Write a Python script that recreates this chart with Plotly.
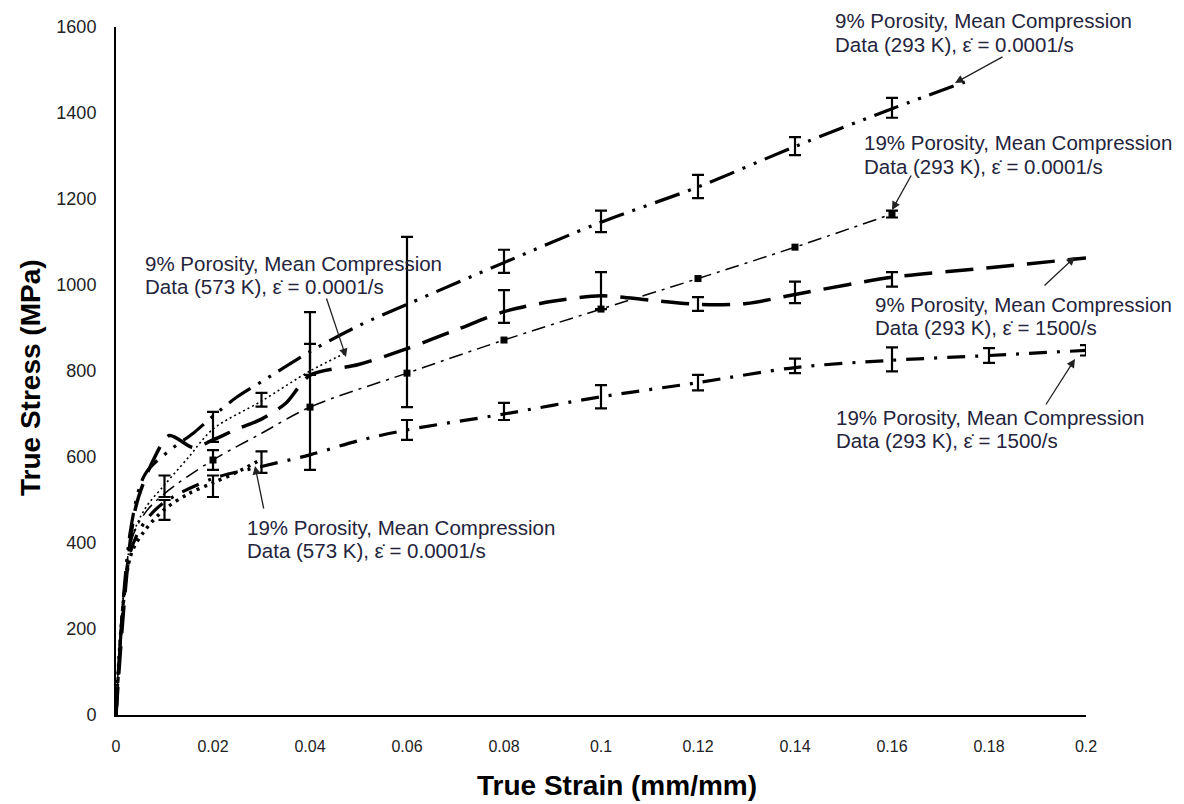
import plotly.graph_objects as go

# ---------------- data ----------------
# A: 9% porosity, 293 K, 0.0001/s
a_x = [0, 0.003, 0.006, 0.011, 0.016, 0.02, 0.025, 0.03, 0.04, 0.05, 0.06, 0.08, 0.1, 0.12, 0.14, 0.16, 0.175]
a_y = [0, 430, 560, 615, 656, 695, 740, 775, 845, 905, 955, 1052, 1146, 1228, 1322, 1410, 1472]
a_ex = [0.08, 0.1, 0.12, 0.14, 0.16]
a_ey = [1055, 1148, 1229, 1323, 1412]
a_err = [27, 25, 27, 21, 23]

# B: 19% porosity, 293 K, 0.0001/s
b_x = [0, 0.003, 0.006, 0.01, 0.02, 0.03, 0.04, 0.06, 0.08, 0.1, 0.12, 0.14, 0.16]
b_y = [0, 400, 470, 515, 593, 655, 716, 795, 872, 944, 1015, 1088, 1165]
b_mx = [0.02, 0.04, 0.06, 0.08, 0.1, 0.12, 0.14, 0.16]
b_my = [593, 716, 795, 872, 944, 1015, 1088, 1165]
b_ex = [0.02, 0.04, 0.06, 0.16]
b_ey = [593, 716, 795, 1165]
b_err_up = [23, 221, 317, 8]
b_err_dn = [23, 146, 79, 8]

# C: 9% porosity, 293 K, 1500/s
c_x = [0, 0.004, 0.008, 0.011, 0.016, 0.02, 0.025, 0.03, 0.035, 0.04, 0.05, 0.06, 0.07, 0.08,
       0.09, 0.1, 0.11, 0.12, 0.13, 0.14, 0.16, 0.18, 0.2]
c_y = [0, 480, 600, 650, 622, 640, 665, 688, 725, 790, 815, 852, 895, 938,
       962, 975, 965, 955, 957, 978, 1018, 1040, 1063]
c_ex = [0.08, 0.1, 0.12, 0.14, 0.16]
c_ey = [950, 987, 956, 983, 1013]
c_err = [38, 43, 16, 25, 17]

# D: 19% porosity, 293 K, 1500/s
d_x = [0, 0.003, 0.006, 0.01, 0.02, 0.03, 0.04, 0.05, 0.06, 0.08, 0.1, 0.12, 0.14, 0.16, 0.18, 0.2]
d_y = [0, 380, 450, 495, 550, 578, 605, 638, 663, 700, 740, 773, 808, 825, 836, 848]
d_ex = [0.06, 0.08, 0.1, 0.12, 0.14, 0.16, 0.18, 0.2]
d_ey = [663, 706, 740, 773, 812, 827, 836, 848]
d_err = [23, 20, 27, 18, 17, 28, 17, 12]

# E: 9% porosity, 573 K, 0.0001/s
e_x = [0, 0.003, 0.006, 0.01, 0.015, 0.02, 0.03, 0.04, 0.047]
e_y = [0, 400, 480, 535, 600, 665, 730, 800, 840]
e_ex = [0.01, 0.02, 0.03, 0.04]
e_ey = [532, 670, 733, 827]
e_err = [25, 35, 16, 36]

# F: 19% porosity, 573 K, 0.0001/s
f_x = [0, 0.003, 0.006, 0.01, 0.015, 0.02, 0.025, 0.03]
f_y = [0, 370, 430, 478, 515, 540, 565, 595]
f_ex = [0.01, 0.02, 0.03]
f_ey = [477, 532, 588]
f_err = [23, 25, 25]

x_ticks = [0, 0.02, 0.04, 0.06, 0.08, 0.1, 0.12, 0.14, 0.16, 0.18, 0.2]
x_tick_text = ["0", "0.02", "0.04", "0.06", "0.08", "0.1", "0.12", "0.14", "0.16", "0.18", "0.2"]
y_ticks = [0, 200, 400, 600, 800, 1000, 1200, 1400, 1600]

EPS = "\u03b5\u0307"
labels = [
    ("9% Porosity, Mean Compression", "Data (293 K), " + EPS + " = 0.0001/s"),
    ("19% Porosity, Mean Compression", "Data (293 K), " + EPS + " = 0.0001/s"),
    ("9% Porosity, Mean Compression", "Data (573 K), " + EPS + " = 0.0001/s"),
    ("9% Porosity, Mean Compression", "Data (293 K), " + EPS + " = 1500/s"),
    ("19% Porosity, Mean Compression", "Data (293 K), " + EPS + " = 1500/s"),
    ("19% Porosity, Mean Compression", "Data (573 K), " + EPS + " = 0.0001/s"),
]

# ---------------- layout geometry (pixels) ----------------
W, H = 1184, 804
L, R, T, B = 116, 98, 27, 89
PW, PH = W - L - R, H - T - B
XMAX, YMAX = 0.2, 1600


def dx(px):
    return (px - L) / PW * XMAX


def dy(py):
    return (H - B - py) / PH * YMAX


def paper_x(px):
    return (px - L) / PW


def paper_y(py):
    return (H - B - py) / PH


fig = go.Figure()


def add_line(x, y, width, dash, smooth=0.9):
    fig.add_trace(go.Scatter(x=x, y=y, mode="lines",
                             line=dict(color="black", width=width, dash=dash,
                                       shape="spline", smoothing=smooth),
                             showlegend=False, hoverinfo="skip"))


def add_err(x, y, up, dn=None):
    fig.add_trace(go.Scatter(x=x, y=y, mode="markers",
                             marker=dict(size=1, color="rgba(0,0,0,0)"),
                             error_y=dict(type="data", array=up,
                                          arrayminus=dn if dn is not None else up,
                                          symmetric=dn is None,
                                          color="black", thickness=2.2, width=6),
                             showlegend=False, hoverinfo="skip"))


add_line(a_x, a_y, 3.2, "26px,9px,3px,9px,3px,9px")
add_line(b_x, b_y, 1.5, "14px,6px,3px,6px")
add_line(c_x, c_y, 3.5, "28px,13px", 0.8)
add_line(d_x, d_y, 3.2, "18px,10px,3px,10px")
add_line(e_x, e_y, 1.6, "2px,3px")
add_line(f_x, f_y, 3.5, "3px,5px")

add_err(a_ex, a_ey, a_err)
add_err(b_ex, b_ey, b_err_up, b_err_dn)
add_err(c_ex, c_ey, c_err)
add_err(d_ex, d_ey, d_err)
add_err(e_ex, e_ey, e_err)
add_err(f_ex, f_ey, f_err)

fig.add_trace(go.Scatter(x=b_mx, y=b_my, mode="markers",
                         marker=dict(symbol="square", size=7, color="black"),
                         showlegend=False, hoverinfo="skip"))

# ---------------- annotations ----------------
TXT = "#24243c"
FS = 20.5
FONT = "Liberation Sans, Arial"
# (left px, first-line center py)
text_pos = [(833, 21), (862, 143), (143, 263), (873, 304), (834, 417), (245, 527)]
LINE_GAP = 23.5
annots = []
for (l1, l2), (px, py) in zip(labels, text_pos):
    for k, t in enumerate((l1, l2)):
        annots.append(dict(x=paper_x(px), y=paper_y(py + k * LINE_GAP),
                           xref="paper", yref="paper",
                           text=t, showarrow=False, xanchor="left", yanchor="middle",
                           font=dict(family=FONT, size=FS, color=TXT)))

# arrows: (tail px, tail py, tip px, tip py)
arrows = [(1004, 56, 955, 83), (912, 174, 892, 210), (326, 297, 346, 357),
          (1043, 287, 1075, 257), (1045, 406, 1075, 359), (264, 510, 255, 466)]
for tx, ty, hx, hy in arrows:
    annots.append(dict(x=dx(hx), y=dy(hy), ax=dx(tx), ay=dy(ty), xref="x", yref="y",
                       axref="x", ayref="y", text="", showarrow=True, arrowhead=2,
                       arrowsize=1.3, arrowwidth=1.3, arrowcolor="#222"))

# axis titles
annots.append(dict(x=paper_x(617), y=paper_y(785), xref="paper", yref="paper",
                   text="<b>True Strain (mm/mm)</b>", showarrow=False,
                   xanchor="center", yanchor="middle",
                   font=dict(family=FONT, size=28, color="black")))
annots.append(dict(x=paper_x(30), y=paper_y(378), xref="paper", yref="paper",
                   text="<b>True Stress (MPa)</b>", showarrow=False, textangle=-90,
                   xanchor="center", yanchor="middle",
                   font=dict(family=FONT, size=28, color="black")))

fig.update_layout(
    width=W, height=H,
    margin=dict(l=L, r=R, t=T, b=B, pad=0),
    paper_bgcolor="white", plot_bgcolor="white",
    annotations=annots,
    xaxis=dict(range=[0, XMAX], tickvals=x_ticks, ticktext=x_tick_text,
               showgrid=False, zeroline=False, showline=True, linecolor="black",
               linewidth=2, ticks="", ticklabelstandoff=16,
               tickfont=dict(family=FONT, size=16, color="#222")),
    yaxis=dict(range=[0, YMAX], tickvals=y_ticks,
               showgrid=False, zeroline=False, showline=True, linecolor="black",
               linewidth=2, ticks="", ticklabelstandoff=14,
               tickfont=dict(family=FONT, size=18, color="#222")),
)

fig.write_html("out.html")
